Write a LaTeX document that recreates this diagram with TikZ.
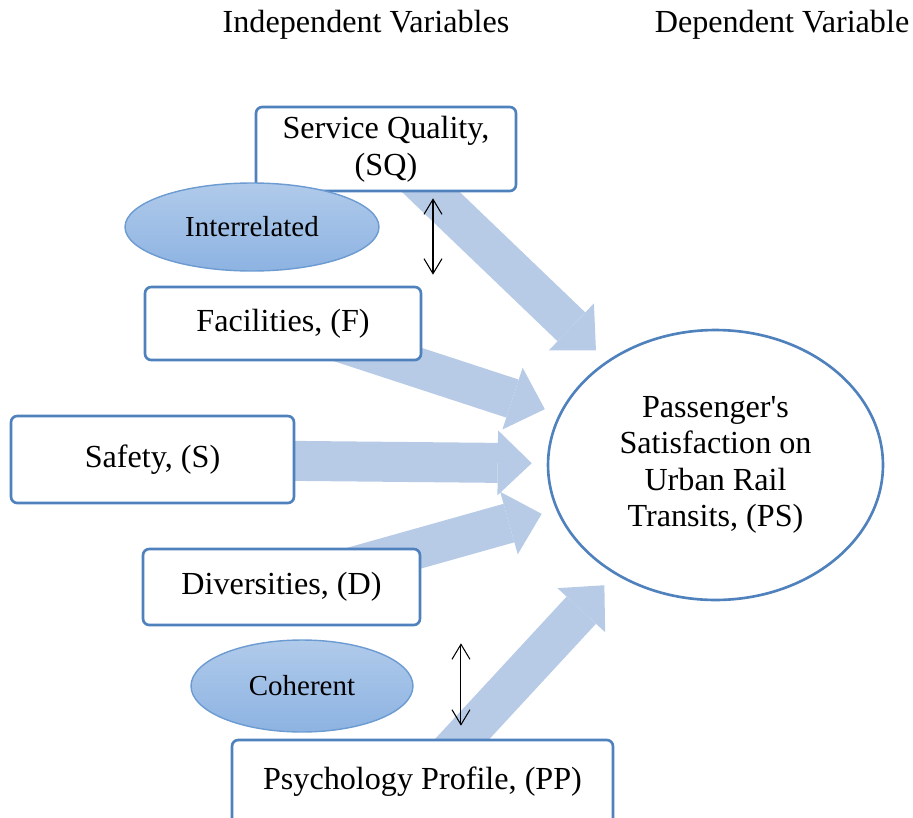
\documentclass[tikz,border=0pt]{standalone}
\usepackage{fontspec}
\setmainfont{Liberation Serif}[Ligatures=TeXOff]
\usetikzlibrary{positioning, arrows.meta, backgrounds, shapes.geometric}
\definecolor{boxframe}{HTML}{4F81BD}
\definecolor{flowfill}{HTML}{B7CBE7}
\definecolor{tagtop}{HTML}{B0CAEA}
\definecolor{tagbottom}{HTML}{8DB3E2}
\definecolor{tagframe}{HTML}{6C9BD2}
\newcommand{\varfont}{\fontsize{18.3}{20.8}\selectfont}
\newcommand{\tagfont}{\fontsize{16.5}{19}\selectfont}
\tikzset{
  varbox/.style={
    draw=boxframe,
    fill=white,
    rounded corners=3.5pt,
    line width=1.5pt,
    align=center,
    inner sep=0pt,
    font=\varfont
  },
  tag/.style={ellipse, draw=tagframe, line width=0.8pt, top color=tagtop, bottom color=tagbottom, inner sep=0pt, font=\tagfont},
  outcome/.style={ellipse, draw=boxframe, fill=white, line width=1.5pt, align=center, inner sep=0pt, font=\varfont},
  fat/.style={flowfill, line width=0.8cm, -{Triangle[length=0.68cm, width=1.3cm, line width=0pt]}, shorten >=0.3cm},
  link/.style={{Straight Barb[length=0.3cm, width=0.36cm]}-{Straight Barb[length=0.3cm, width=0.36cm]}, line width=0.6pt},
  heading/.style={font=\varfont, inner sep=0pt}
}

\begin{document}
\begin{tikzpicture}[x=0.02cm, y=-0.02cm]
  \useasboundingbox (0,0) rectangle (913,818);

  % column headings
  \node[heading] (indep) at (366,25) {Independent Variables};
  \node[heading] (dep) at (782,25) {Dependent Variable};

  % independent variables, left column
  \node[varbox, minimum width=5.2cm, minimum height=1.68cm] (sq) at (386,149) {Service Quality,\\(SQ)};
  \node[varbox, minimum width=5.52cm, minimum height=1.46cm] (fac) at (283,323.5) {Facilities, (F)};
  \node[varbox, minimum width=5.66cm, minimum height=1.74cm] (saf) at (152.5,459.5) {Safety, (S)};
  \node[varbox, minimum width=5.54cm, minimum height=1.52cm] (div) at (281.5,587) {Diversities, (D)};
  \node[varbox, minimum width=7.62cm, minimum height=1.68cm] (pp) at (422.5,782) {Psychology Profile, (PP)};

  % relation tags
  \node[tag, minimum width=5.08cm, minimum height=1.76cm] (inter) at (252,227) {Interrelated};
  \node[tag, minimum width=4.44cm, minimum height=1.84cm] (coh) at (302,686) {Coherent};

  % dependent variable
  \node[outcome, minimum width=6.7cm, minimum height=5.4cm] (ps) at (715.5,465) {Passenger's\\Satisfaction on\\Urban Rail\\Transits, (PS)};

  % wide arrows into the dependent variable
  \begin{scope}[on background layer]
    \foreach \src in {sq, fac, saf, div, pp}
      \draw[fat] (\src.center) -- (ps);
  \end{scope}

  % two-way links between neighbouring variables
  \coordinate (gapA) at ([xshift=0.94cm]sq.south);
  \coordinate (gapB) at ([xshift=3.59cm]div.south);
  \draw[link, shorten <=0.12cm, shorten >=0.22cm] (gapA) -- (gapA |- fac.north);
  \draw[link, shorten <=0.34cm, shorten >=0.26cm] (gapB) -- (gapB |- pp.north);

\end{tikzpicture}
\end{document}
